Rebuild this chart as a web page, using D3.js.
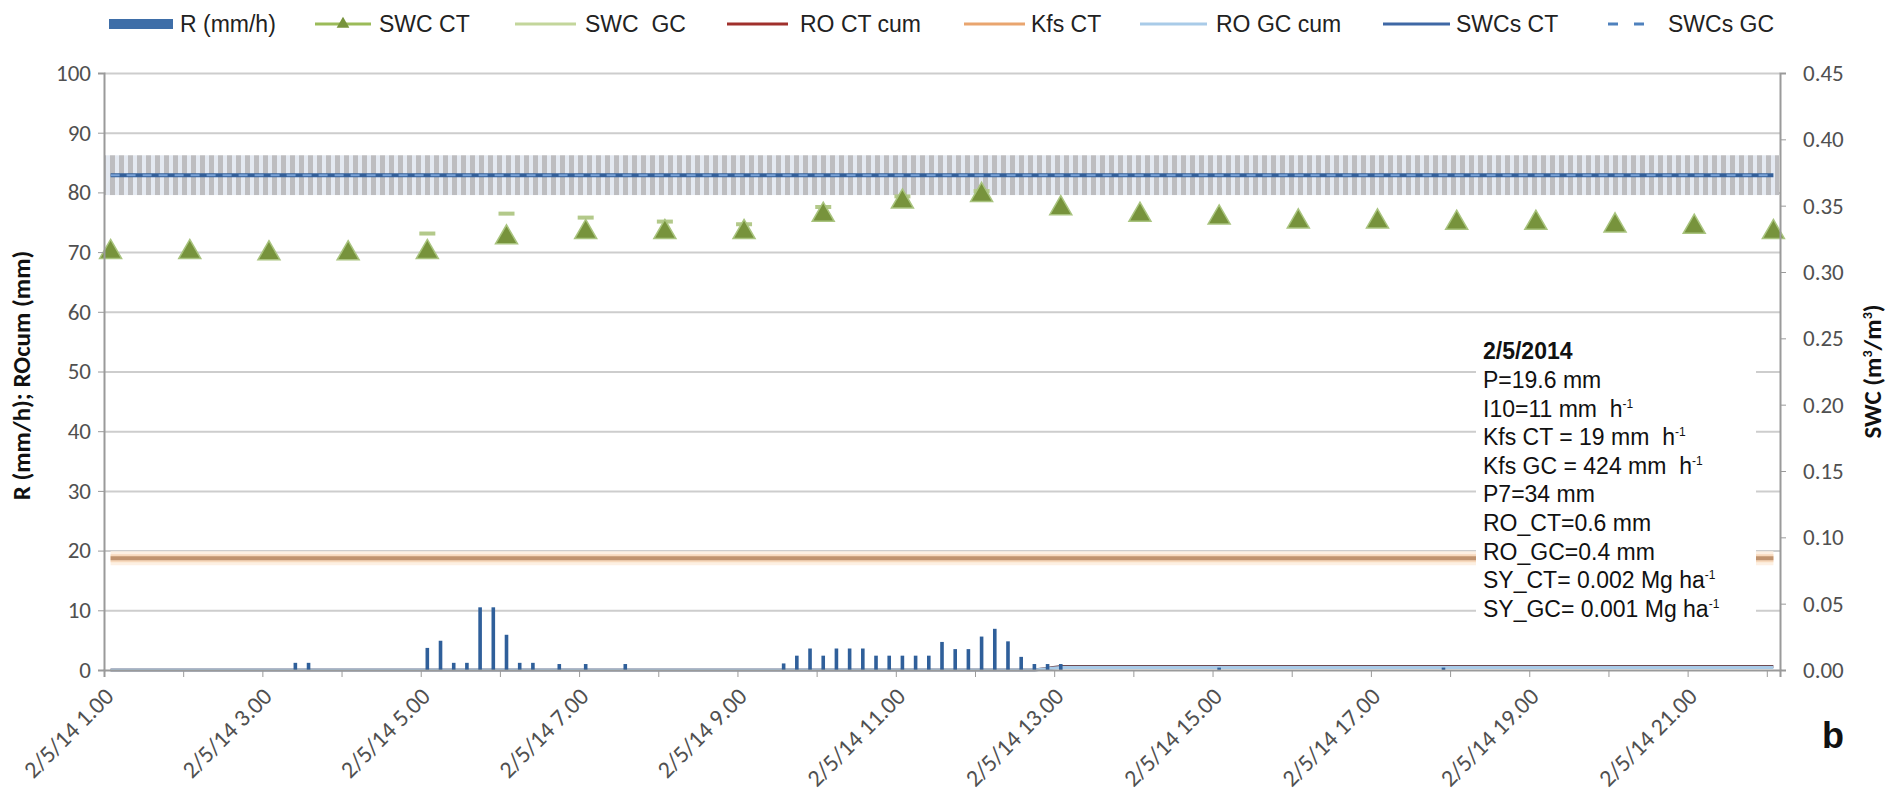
<!DOCTYPE html>
<html lang="en">
<head>
<meta charset="UTF-8">
<title>Rain, runoff and SWC - 2/5/2014</title>
<script src="https://d3js.org/d3.v7.min.js"></script>
<style>
  body { margin: 0; background: #fff; }
  svg { display: block; }
  text { white-space: pre; }
</style>
</head>
<body>
<script>

// ---- data ----

// rain intensity, 10 min intervals (start of interval), mm/h
var rainTime = ["3:20","3:30","5:00","5:10","5:20","5:30","5:40","5:50","6:00","6:10","6:20",
                "6:40","7:00","7:30","9:30","9:40","9:50","10:00","10:10","10:20","10:30",
                "10:40","10:50","11:00","11:10","11:20","11:30","11:40","11:50","12:00","12:10",
                "12:20","12:30","12:40","12:50","13:00","15:00","17:50"];
var rainMmH  = [1.2,1.2,3.7,4.9,1.2,1.2,10.5,10.5,5.9,1.2,1.2,
                1.0,1.0,1.0,1.1,2.4,3.6,2.4,3.6,3.6,3.6,
                2.4,2.4,2.4,2.4,2.4,4.7,3.5,3.5,5.6,6.9,
                4.8,2.2,1.0,1.0,1.0,0.4,0.4];

// soil water content, hourly
var swcTime = ["1:00","2:00","3:00","4:00","5:00","6:00","7:00","8:00","9:00","10:00","11:00",
               "12:00","13:00","14:00","15:00","16:00","17:00","18:00","19:00","20:00","21:00","22:00"];
var swcCT   = [0.315,0.315,0.314,0.314,0.315,0.326,0.330,0.330,0.330,0.343,0.353,
               0.358,0.348,0.343,0.341,0.338,0.338,0.337,0.337,0.335,0.334,0.330];
var swcGC   = [null,null,null,null,0.329,0.344,0.341,0.338,0.336,0.349,0.357,
               0.361,null,null,null,null,null,null,null,null,null,null];

// saturated SWC and its spread
var swcsTime = ["1:00","22:00"];
var swcsCT   = [0.373,0.373];
var swcsGC   = [0.373,0.373];
var swcsSD   = [0.015,0.015];

// cumulative runoff, mm
var roTime = ["1:00","12:40","13:00","22:00"];
var roCT   = [0, 0, 0.6, 0.6];
var roGC   = [0, 0, 0.4, 0.4];

// field saturated conductivity CT, mm/h
var kfsTime = ["1:00","22:00"];
var kfsCT   = [18.7, 18.7];

// axes
var yLeftTicks  = [0,10,20,30,40,50,60,70,80,90,100];
var yRightTicks = [0,0.05,0.10,0.15,0.20,0.25,0.30,0.35,0.40,0.45];
var xTickHours  = [1,3,5,7,9,11,13,15,17,19,21];
var xTickLabels = ["2/5/14 1.00","2/5/14 3.00","2/5/14 5.00","2/5/14 7.00","2/5/14 9.00",
                   "2/5/14 11.00","2/5/14 13.00","2/5/14 15.00","2/5/14 17.00","2/5/14 19.00",
                   "2/5/14 21.00"];

var legendNames = ["R (mm/h)","SWC CT","SWC  GC","RO CT cum","Kfs CT","RO GC cum","SWCs CT","SWCs GC"];

var noteLines = ["P=19.6 mm","I10=11 mm  h|-1","Kfs CT = 19 mm  h|-1","Kfs GC = 424 mm  h|-1",
                 "P7=34 mm","RO_CT=0.6 mm","RO_GC=0.4 mm","SY_CT= 0.002 Mg ha|-1","SY_GC= 0.001 Mg ha|-1"];

// ---- layout ----
var W = 1892, H = 807;
var pL = 104, pR = 1780, pT = 73, pB = 670;

function t(s) {
    var p = s.split(":").map(Number);
    return new Date(2014, 4, 2, p[0], p[1]);
}
var HALF = 5 * 60000; // half a 10 min category

var x = d3.scaleTime().domain([t("1:00"), t("22:10")]).range([pL, pR]);
function xc(s) { return x(new Date(t(s).getTime() + HALF)); }
var yL = d3.scaleLinear().domain([0, 100]).range([pB, pT]);
var yR = d3.scaleLinear().domain([0, 0.45]).range([pB, pT]);

var svg = d3.select("body").append("svg")
    .attr("width", W).attr("height", H);

svg.append("rect").attr("width", W).attr("height", H).attr("fill", "#fff");

// stripes for the SWCs spread (error bars)
var defs = svg.append("defs");
var pat = defs.append("pattern").attr("id", "stripes")
    .attr("patternUnits", "userSpaceOnUse").attr("width", 9).attr("height", 10);
pat.append("rect").attr("width", 9).attr("height", 10).attr("fill", "#e4e9f1");
pat.append("rect").attr("x", 2).attr("width", 5).attr("height", 10).attr("fill", "#bdbdc0");

// gridlines
svg.append("g")
    .attr("transform", "translate(" + pL + ",0)")
    .call(d3.axisLeft(yL).tickValues(yLeftTicks.slice(1)).tickSize(-(pR - pL)).tickFormat(""))
    .call(function(g) {
        g.select(".domain").remove();
        g.selectAll("line").attr("stroke", "#cdcdcd").attr("stroke-width", 2);
    });

// SWCs band + lines
var bandTop = yR(swcsCT[0] + swcsSD[0]), bandBot = yR(swcsCT[0] - swcsSD[0]);
svg.append("rect")
    .attr("x", pL + 1).attr("width", pR - pL - 2)
    .attr("y", bandTop).attr("height", bandBot - bandTop)
    .attr("fill", "url(#stripes)");

var lineR = d3.line().x(function(d) { return xc(d[0]); }).y(function(d) { return yR(d[1]); });
var lineL = d3.line().x(function(d) { return xc(d[0]); }).y(function(d) { return yL(d[1]); });

svg.append("path").datum(d3.zip(swcsTime, swcsCT))
    .attr("d", lineR).attr("fill", "none").attr("stroke", "#34609a").attr("stroke-width", 4);
svg.append("path").datum(d3.zip(swcsTime, swcsGC))
    .attr("d", lineR).attr("fill", "none").attr("stroke", "#7aa3d8").attr("stroke-width", 2)
    .attr("stroke-dasharray", "9,7");

// Kfs CT line
var kfsData = d3.zip(kfsTime, kfsCT);
svg.append("path").datum(kfsData).attr("d", lineL).attr("fill", "none")
    .attr("stroke", "#fdf0e3").attr("stroke-width", 14);
svg.append("path").datum(kfsData).attr("d", lineL).attr("fill", "none")
    .attr("stroke", "#f7d9bd").attr("stroke-width", 8);
svg.append("path").datum(kfsData).attr("d", lineL).attr("fill", "none")
    .attr("stroke", "#c0936f").attr("stroke-width", 4);

// cumulative runoff
svg.append("path").datum(d3.zip(roTime, roCT)).attr("d", lineL).attr("fill", "none")
    .attr("stroke", "#6e4a52").attr("stroke-width", 3);
svg.append("path").datum(d3.zip(roTime, roGC)).attr("d", lineL).attr("fill", "none")
    .attr("stroke", "#a9cbe8").attr("stroke-width", 3);

// rain bars
svg.append("g").selectAll("rect")
    .data(d3.zip(rainTime, rainMmH))
    .join("rect")
    .attr("x", function(d) { return xc(d[0]) - 1.8; })
    .attr("width", 3.6)
    .attr("y", function(d) { return yL(d[1]); })
    .attr("height", function(d) { return yL(0) - yL(d[1]); })
    .attr("fill", "#2f5f9a");

// SWC GC markers (short dashes)
svg.append("g").selectAll("rect")
    .data(d3.zip(swcTime, swcGC).filter(function(d) { return d[1] != null; }))
    .join("rect")
    .attr("x", function(d) { return xc(d[0]) - 8; })
    .attr("y", function(d) { return yR(d[1]) - 2; })
    .attr("width", 16).attr("height", 4)
    .attr("fill", "#b3c98a");

// SWC CT triangles
var tri = d3.symbol().type(d3.symbolTriangle).size(210);
svg.append("g").selectAll("path")
    .data(d3.zip(swcTime, swcCT))
    .join("path")
    .attr("d", tri)
    .attr("transform", function(d) { return "translate(" + xc(d[0]) + "," + yR(d[1]) + ")"; })
    .attr("fill", "#77933c").attr("stroke", "#a9c47f").attr("stroke-width", 1.5);

// note box
var note = svg.append("g");
note.append("rect").attr("x", 1476).attr("y", 336).attr("width", 280).attr("height", 294).attr("fill", "#fff");
note.append("text").attr("x", 1483).attr("y", 359)
    .attr("font-family", "Liberation Sans, Arial, sans-serif").attr("font-size", 23)
    .attr("font-weight", "bold").attr("fill", "#111").text("2/5/2014");
noteLines.forEach(function(s, i) {
    var parts = s.split("|");
    var tx = note.append("text").attr("x", 1483).attr("y", 388 + i * 28.6)
        .attr("font-family", "Liberation Sans, Arial, sans-serif").attr("font-size", 23)
        .attr("fill", "#111");
    tx.append("tspan").text(parts[0]);
    if (parts[1]) {
        tx.append("tspan").attr("dy", -9).attr("font-size", 12).text(parts[1]);
    }
});

// axes
var axisColor = "#9a9a9a";
var tickFont = "Carlito, Lato, sans-serif";

svg.append("g")
    .attr("transform", "translate(" + pL + ",0)")
    .call(d3.axisLeft(yL).tickValues(yLeftTicks).tickSize(6).tickPadding(7))
    .call(function(g) {
        g.select(".domain").attr("stroke", axisColor).attr("stroke-width", 2);
        g.selectAll("line").attr("stroke", axisColor);
        g.selectAll("text").attr("font-family", tickFont).attr("font-size", 23).attr("fill", "#505050");
    });

svg.append("g")
    .attr("transform", "translate(" + pR + ",0)")
    .call(d3.axisRight(yR).tickValues(yRightTicks).tickFormat(d3.format(".2f")).tickSize(6).tickPadding(17))
    .call(function(g) {
        g.select(".domain").attr("stroke", axisColor).attr("stroke-width", 2);
        g.selectAll("line").attr("stroke", axisColor);
        g.selectAll("text").attr("font-family", tickFont).attr("font-size", 23).attr("fill", "#505050");
    });

svg.append("g")
    .attr("transform", "translate(0," + pB + ")")
    .call(d3.axisBottom(x).ticks(d3.timeHour.every(1)).tickSize(7).tickFormat(""))
    .call(function(g) {
        g.select(".domain").attr("stroke", axisColor).attr("stroke-width", 2);
        g.selectAll("line").attr("stroke", axisColor);
    });

svg.append("g").selectAll("text")
    .data(d3.zip(xTickHours, xTickLabels))
    .join("text")
    .attr("transform", function(d) {
        var px = x(new Date(2014, 4, 2, d[0], 0));
        return "translate(" + (px + 11) + "," + (pB + 28) + ") rotate(-45)";
    })
    .attr("text-anchor", "end")
    .attr("font-family", tickFont).attr("font-size", 24).attr("fill", "#505050")
    .text(function(d) { return d[1]; });

// axis titles
svg.append("text")
    .attr("transform", "translate(30," + ((pT + pB) / 2 + 4) + ") rotate(-90)")
    .attr("text-anchor", "middle")
    .attr("font-family", "Carlito, Liberation Sans, Arial, sans-serif").attr("font-size", 25)
    .attr("font-weight", "bold").attr("fill", "#111")
    .text("R (mm/h); ROcum (mm)");

var rt = svg.append("text")
    .attr("transform", "translate(1881," + ((pT + pB) / 2) + ") rotate(-90)")
    .attr("text-anchor", "middle")
    .attr("font-family", "Carlito, Liberation Sans, Arial, sans-serif").attr("font-size", 25)
    .attr("font-weight", "bold").attr("fill", "#111");
rt.append("tspan").text("SWC (m");
rt.append("tspan").attr("dy", -9).attr("font-size", 14).text("3");
rt.append("tspan").attr("dy", 9).text("/m");
rt.append("tspan").attr("dy", -9).attr("font-size", 14).text("3");
rt.append("tspan").attr("dy", 9).text(")");

// panel letter
svg.append("text").attr("x", 1822).attr("y", 748)
    .attr("font-family", "Liberation Sans, Arial, sans-serif").attr("font-size", 36)
    .attr("font-weight", "bold").attr("fill", "#111").text("b");

// legend
var legX = [109, 315, 515, 727, 964, 1140, 1383, 1608];
var legTextX = [180, 379, 585, 800, 1031, 1216, 1456, 1668];
var legY = 24;
var lg = svg.append("g").attr("font-family", "Liberation Sans, Arial, sans-serif")
    .attr("font-size", 23).attr("fill", "#222");

lg.append("rect").attr("x", legX[0]).attr("y", legY - 5).attr("width", 64).attr("height", 10).attr("fill", "#3e6ea8");
lg.append("line").attr("x1", legX[1]).attr("x2", legX[1] + 56).attr("y1", legY).attr("y2", legY)
    .attr("stroke", "#9bbb59").attr("stroke-width", 3);
lg.append("path").attr("d", d3.symbol().type(d3.symbolTriangle).size(70))
    .attr("transform", "translate(" + (legX[1] + 28) + "," + legY + ")").attr("fill", "#77933c");
lg.append("line").attr("x1", legX[2]).attr("x2", legX[2] + 61).attr("y1", legY).attr("y2", legY)
    .attr("stroke", "#c3d69b").attr("stroke-width", 3);
lg.append("line").attr("x1", legX[3]).attr("x2", legX[3] + 61).attr("y1", legY).attr("y2", legY)
    .attr("stroke", "#a0302c").attr("stroke-width", 3);
lg.append("line").attr("x1", legX[4]).attr("x2", legX[4] + 61).attr("y1", legY).attr("y2", legY)
    .attr("stroke", "#e9a56f").attr("stroke-width", 3);
lg.append("line").attr("x1", legX[5]).attr("x2", legX[5] + 67).attr("y1", legY).attr("y2", legY)
    .attr("stroke", "#a9cbe8").attr("stroke-width", 3);
lg.append("line").attr("x1", legX[6]).attr("x2", legX[6] + 67).attr("y1", legY).attr("y2", legY)
    .attr("stroke", "#3f68a5").attr("stroke-width", 3);
lg.append("line").attr("x1", legX[7]).attr("x2", legX[7] + 40).attr("y1", legY).attr("y2", legY)
    .attr("stroke", "#4f81bd").attr("stroke-width", 3).attr("stroke-dasharray", "10,16");

legendNames.forEach(function(n, i) {
    lg.append("text").attr("x", legTextX[i]).attr("y", legY + 8).text(n);
});

</script>
</body>
</html>
